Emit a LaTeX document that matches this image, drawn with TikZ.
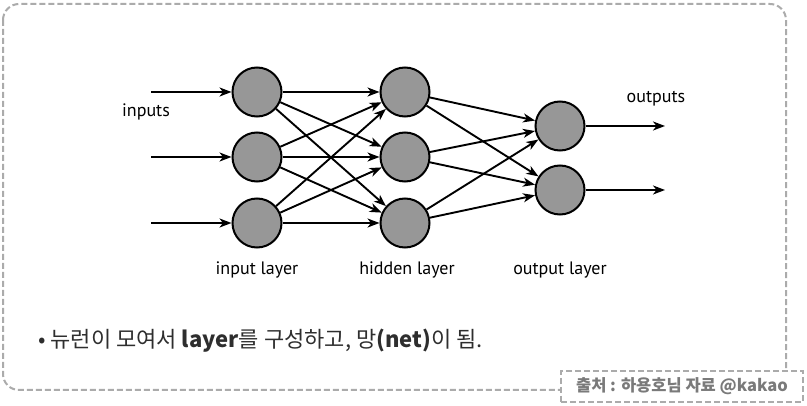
\documentclass[tikz,border=0pt]{standalone}
\usepackage{fontspec}
\setmainfont{PT Sans}
\newfontfamily\krfont{Noto Sans CJK KR}
\usetikzlibrary{arrows.meta}
\definecolor{boxgray}{HTML}{ABABAB}
\definecolor{neurongray}{HTML}{979797}
\definecolor{textdark}{HTML}{2E2E2E}
\definecolor{srcgray}{HTML}{7A7A7A}
\tikzset{
  neuron/.style={circle,draw,line width=2pt,fill=neurongray,minimum size=49pt,inner sep=0pt},
  link/.style={line width=1.9pt,-{Stealth[length=12pt,width=9pt,inset=3.5pt]}},
  framebox/.style={draw=boxgray,line width=2pt,dash pattern=on 6pt off 3pt},
  lbl/.style={font=\fontsize{18}{21}\selectfont}
}

\begin{document}
\begin{tikzpicture}[x=1pt,y=-1pt]
  \useasboundingbox (0,0) rectangle (807,406);
  \draw[framebox,rounded corners=16pt] (3,4) rectangle (786,390);
  % neurons
  \foreach \i/\y in {1/92,2/157,3/223} {
    \node[neuron] (in\i) at (257,\y) {};
    \node[neuron] (hid\i) at (405,\y) {};
    \coordinate (src\i) at (151,\y);
  }
  \node[neuron] (out1) at (560,126) {};
  \node[neuron] (out2) at (560,190) {};
  \coordinate (dst1) at (665,126);
  \coordinate (dst2) at (665,190);
  % connections
  \foreach \i in {1,2,3} \draw[link] (src\i) -- (in\i);
  \foreach \i in {1,2,3} \foreach \j in {1,2,3} \draw[link] (in\i) -- (hid\j);
  \foreach \i in {1,2,3} \foreach \j in {1,2} \draw[link] (hid\i) -- (out\j);
  \foreach \j in {1,2} \draw[link] (out\j) -- (dst\j);
  % labels
  \node[lbl] (inputs) at (146,112) {inputs};
  \node[lbl] (outputs) at (656,99) {outputs};
  \node[lbl] (inlayer) at (257,270) {input layer};
  \node[lbl] (hidlayer) at (407,270) {hidden layer};
  \node[lbl] (outlayer) at (560,270) {output layer};
  % caption
  \node[anchor=west,text=textdark,inner sep=0pt] (note) at (38,341)
    {\krfont\fontsize{22}{26}\selectfont • 뉴런이 모여서 \textbf{layer}를 구성하고, 망\textbf{(net)}이 됨.};
  \node[framebox,fill=white,minimum width=242pt,minimum height=31pt,inner sep=0pt,text=srcgray] (source) at (682,386.5)
    {\krfont\bfseries\fontsize{16.5}{19}\selectfont 출처 : 하용호님 자료 @kakao};
\end{tikzpicture}
\end{document}
